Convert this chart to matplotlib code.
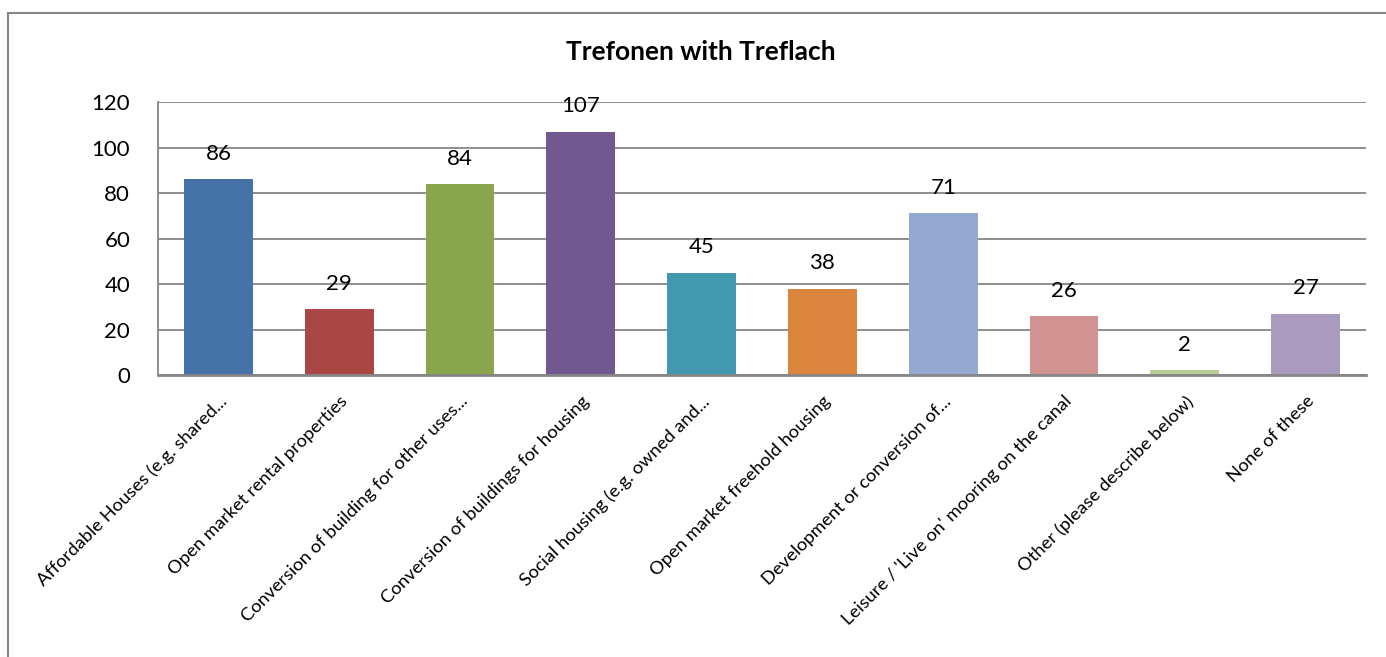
import matplotlib.pyplot as plt
from matplotlib.lines import Line2D

plt.rcParams['font.family'] = ['Lato', 'DejaVu Sans']

categories = [
    "Affordable Houses (e.g. shared...",
    "Open market rental properties",
    "Conversion of building for other uses...",
    "Conversion of buildings for housing",
    "Social housing (e.g. owned and...",
    "Open market freehold housing",
    "Development or conversion of...",
    "Leisure / 'Live on' mooring on the canal",
    "Other (please describe below)",
    "None of these",
]
values = [86, 29, 84, 107, 45, 38, 71, 26, 2, 27]
colors = ['#4572A7', '#AA4643', '#89A54E', '#71588F', '#4198AF',
          '#DB843D', '#93A9CF', '#D19392', '#B9CD96', '#A99BBD']

W, H = 1386, 657
fig = plt.figure(figsize=(W / 100, H / 100), dpi=100)

# plot area in pixels: left 158, right 1366, top 102, bottom 375
ax = fig.add_axes([158 / W, 1 - 375 / H, (1366 - 158) / W, (375 - 102) / H])

x = range(len(values))
bars = ax.bar(x, values, width=0.57, color=colors, zorder=3)
ax.set_xlim(-0.5, len(values) - 0.5)
ax.set_ylim(0, 120)
ax.set_yticks(range(0, 121, 20))
ax.yaxis.grid(True, color='#868686', linewidth=1.3, zorder=0)

# value labels above bars
for b, v in zip(bars, values):
    ax.annotate(str(v), (b.get_x() + b.get_width() / 2, v), xytext=(0, 11),
                textcoords='offset points', ha='center', va='bottom', fontsize=16)

ax.set_xticks(list(x))
ax.set_xticklabels(categories, rotation=45, ha='right', rotation_mode='anchor',
                   fontsize=13.2)
ax.tick_params(axis='x', length=0, pad=13)
ax.tick_params(axis='y', length=0, labelsize=16, pad=20)

for s in ['top', 'right']:
    ax.spines[s].set_visible(False)
ax.spines['left'].set_color('#868686')
ax.spines['bottom'].set_color('#868686')
ax.spines['left'].set_linewidth(1.3)
ax.spines['bottom'].set_linewidth(2)
ax.spines['bottom'].set_zorder(4)

# chart frame (left and top edges visible)
fig.add_artist(Line2D([8 / W, 8 / W], [0, 1 - 13 / H], color='#868686', linewidth=1.5))
fig.add_artist(Line2D([8 / W, 1], [1 - 13 / H, 1 - 13 / H], color='#868686', linewidth=1.5))

fig.text(701 / W, 1 - 52 / H, 'Trefonen with Treflach', ha='center', va='center',
         fontsize=19, fontweight='bold')

fig.savefig('out.png', dpi=100)
